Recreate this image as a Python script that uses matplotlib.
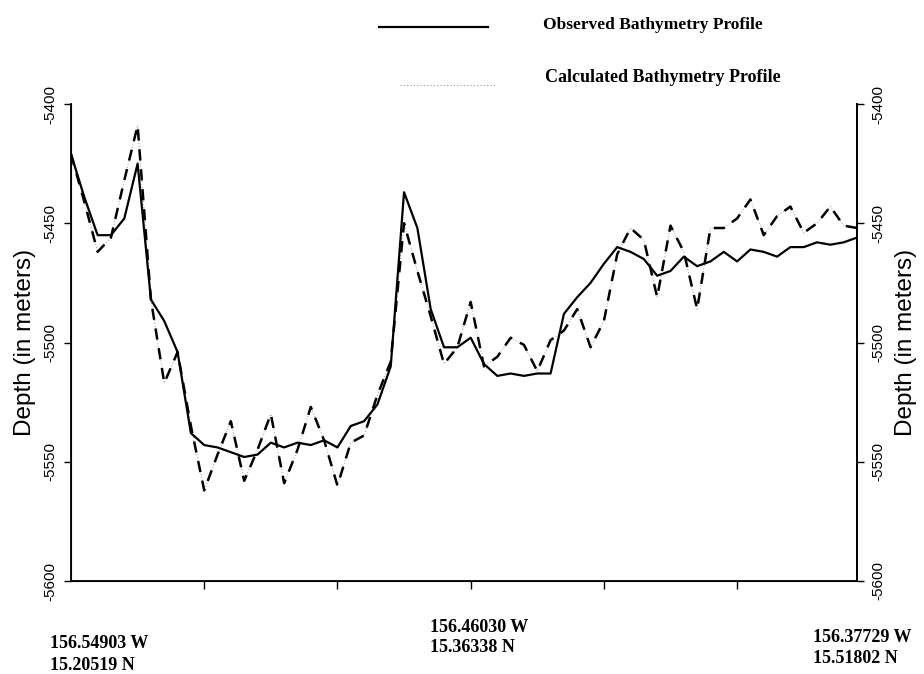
import matplotlib.pyplot as plt
import numpy as np

# Bathymetry along the profile (depth in m), one value per sample station
observed_depth = [
    -5421, -5439, -5455, -5455, -5448, -5425, -5482, -5491, -5504, -5538,
    -5543, -5544, -5546, -5548, -5547, -5542, -5544, -5542, -5543, -5541,
    -5544, -5535, -5533, -5526, -5510, -5437, -5452, -5486, -5502, -5502,
    -5498, -5509, -5514, -5513, -5514, -5513, -5513, -5488, -5481, -5475,
    -5467, -5460, -5462, -5465, -5472, -5470, -5464, -5468, -5466, -5462,
    -5466, -5461, -5462, -5464, -5460, -5460, -5458, -5459, -5458, -5456,
]
calculated_depth = [
    -5421, -5441, -5462, -5456, -5432, -5409, -5482, -5517, -5504, -5535,
    -5562, -5547, -5533, -5558, -5545, -5530, -5559, -5545, -5527, -5541,
    -5560, -5542, -5539, -5522, -5508, -5450, -5470, -5489, -5509, -5502,
    -5483, -5510, -5506, -5498, -5501, -5512, -5499, -5495, -5486, -5502,
    -5491, -5463, -5452, -5457, -5481, -5451, -5462, -5486, -5452, -5452,
    -5448, -5440, -5455, -5447, -5443, -5454, -5450, -5443, -5451, -5452,
]
station = np.arange(len(observed_depth))

depth_ticks = [-5600, -5550, -5500, -5450, -5400]
station_ticks = [10, 20, 30, 40, 50]

# end / mid point coordinates printed under the profile
coord_labels = [
    ("156.54903 W", "15.20519 N"),
    ("156.46030 W", "15.36338 N"),
    ("156.37729 W", "15.51802 N"),
]

W, H = 924, 674
fig = plt.figure(figsize=(W / 100, H / 100), dpi=100)
ax = fig.add_axes([71 / W, 1 - 581 / H, (857 - 71) / W, (581 - 104) / H])

ax.plot(station, observed_depth, color="black", linewidth=1.6, zorder=3)
# calculated profile: faint dotted trace with heavy dashes on top
ax.plot(station, calculated_depth, color="#9a9a9a", linewidth=0.7,
        linestyle=(0, (1, 2)), zorder=2)
ax.plot(station, calculated_depth, color="black", linewidth=1.8,
        linestyle=(0, (4.5, 3.5)), zorder=2)

ax.set_xlim(station[0], station[-1])
ax.set_ylim(-5600, -5400)
ax.set_xticks(station_ticks)
ax.set_xticklabels([])
ax.set_yticks(depth_ticks)
ax.set_yticklabels([str(v) for v in depth_ticks], rotation=90, va="center",
                   fontsize=11, family="Liberation Sans")
ax.tick_params(axis="y", direction="out", length=5, width=1.0, pad=5)
ax.tick_params(axis="x", direction="out", length=6, width=1.0)
ax.spines["top"].set_visible(False)
for s in ["left", "right", "bottom"]:
    ax.spines[s].set_linewidth(1.3)

ax2 = ax.twinx()
ax2.set_ylim(ax.get_ylim())
ax2.set_yticks(depth_ticks)
ax2.set_yticklabels([str(v) for v in depth_ticks], rotation=90, va="center",
                    fontsize=11, family="Liberation Sans")
ax2.tick_params(axis="y", direction="out", length=5, width=1.0, pad=5)
ax2.spines["top"].set_visible(False)
ax2.spines["right"].set_linewidth(1.3)

ax.set_ylabel("Depth (in meters)", fontsize=17.5, family="Liberation Sans",
              labelpad=5)
ax2.set_ylabel("Depth (in meters)", fontsize=17.5, family="Liberation Sans",
               rotation=90, labelpad=7)

# coordinate labels below the axis
label_pos = [(50, 648, 670), (430, 632, 652), (813, 642, 663)]
for (lon, lat), (px, y1, y2) in zip(coord_labels, label_pos):
    fig.text(px / W, 1 - y1 / H, lon, fontsize=13, family="Liberation Serif",
             weight="bold", va="baseline", ha="left")
    fig.text(px / W, 1 - y2 / H, lat, fontsize=13, family="Liberation Serif",
             weight="bold", va="baseline", ha="left")

# key in the top margin
fig.add_artist(plt.Line2D([379 / W, 488 / W], [1 - 27 / H, 1 - 27 / H],
                          color="black", linewidth=1.6))
fig.add_artist(plt.Line2D([400 / W, 495 / W], [1 - 85 / H, 1 - 85 / H],
                          color="#9a9a9a", linewidth=0.8, linestyle=(0, (1, 2))))
fig.text(543 / W, 1 - 29 / H, "Observed Bathymetry Profile", fontsize=12.5,
         family="Liberation Serif", weight="bold", va="baseline")
fig.text(545 / W, 1 - 82 / H, "Calculated Bathymetry Profile", fontsize=13,
         family="Liberation Serif", weight="bold", va="baseline")

fig.savefig("out.png", dpi=100, facecolor="white")
